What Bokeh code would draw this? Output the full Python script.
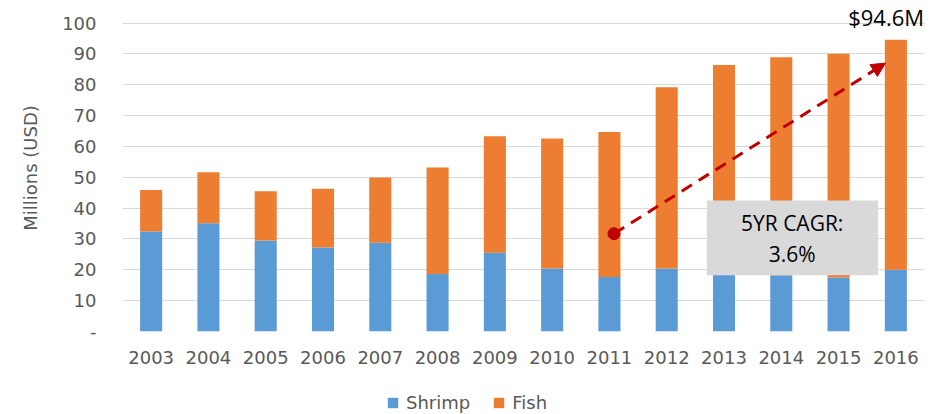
from bokeh.plotting import figure
from bokeh.layouts import column
from bokeh.models import (Range1d, FixedTicker, BoxAnnotation, Label, Arrow,
                          NormalHead, Legend, LegendItem, ColumnDataSource)
from bokeh.embed import file_html
from bokeh.resources import INLINE

# Export value by year, millions of USD
years = ["2003", "2004", "2005", "2006", "2007", "2008", "2009",
         "2010", "2011", "2012", "2013", "2014", "2015", "2016"]
shrimp = [32.4, 35.1, 29.5, 27.2, 28.8, 18.6, 25.5, 20.4, 17.7, 20.4, 18.3, 18.2, 17.5, 20.0]
fish = [13.5, 16.5, 16.0, 19.1, 21.1, 34.6, 37.8, 42.2, 47.0, 58.8, 68.1, 70.7, 72.5, 74.6]
series = ["Shrimp", "Fish"]
y_ticks = [0, 10, 20, 30, 40, 50, 60, 70, 80, 90, 100]
cagr_text = "5YR CAGR:\n3.6%"

BLUE = "#5B9BD5"
ORANGE = "#ED7D31"
RED = "#C00000"
GREY_TEXT = "#595959"
TICK_FONT = "DejaVu Sans"
NOTE_FONT = "Open Sans"

idx = list(range(len(years)))
src = ColumnDataSource(dict(x=idx, shrimp=shrimp, fish=fish))

p = figure(width=947, height=378, output_backend="svg", toolbar_location=None,
           x_range=Range1d(-0.5, len(years) - 0.5), y_range=Range1d(0, 106),
           min_border_left=122, min_border_right=23, min_border_top=4,
           min_border_bottom=47)
p.outline_line_color = None
p.background_fill_color = "white"
p.border_fill_color = "white"

p.vbar_stack(["shrimp", "fish"], x="x", width=0.385, source=src,
             color=[BLUE, ORANGE], line_color=None)

# axes
p.xaxis.ticker = FixedTicker(ticks=idx)
p.xaxis.major_label_overrides = {i: y for i, y in enumerate(years)}
p.yaxis.ticker = FixedTicker(ticks=y_ticks)
p.yaxis.major_label_overrides = {0: "-"}
for ax in (p.xaxis[0], p.yaxis[0]):
    ax.axis_line_color = None
    ax.major_tick_line_color = None
    ax.minor_tick_line_color = None
    ax.major_tick_out = 0
    ax.minor_tick_out = 0
    ax.major_label_text_color = GREY_TEXT
    ax.major_label_text_font = TICK_FONT
    ax.major_label_text_font_size = "18px"
p.xaxis.major_label_standoff = 19
p.yaxis.major_label_standoff = 26
p.yaxis.axis_label = "Millions (USD)"
p.yaxis.axis_label_text_font = TICK_FONT
p.yaxis.axis_label_text_font_size = "18px"
p.yaxis.axis_label_text_font_style = "normal"
p.yaxis.axis_label_text_color = GREY_TEXT
p.yaxis.axis_label_standoff = 18

p.xgrid.grid_line_color = None
p.ygrid.grid_line_color = "#D9D9D9"
p.ygrid.grid_line_width = 1

# growth arrow from 2011 to 2016
last = len(years) - 1
p.add_layout(Arrow(x_start=8.08, y_start=31.7, x_end=12.82, y_end=87.0,
                   line_color=RED, line_width=3, line_dash="12 8",
                   end=NormalHead(size=14, fill_color=RED, line_color=RED)))
p.scatter([8.08], [31.7], size=12, color=RED)

# 2016 total
p.add_layout(Label(x=last - 0.17, y=101.8,
                   text="$%.1fM" % (shrimp[last] + fish[last]),
                   text_align="center", text_baseline="middle",
                   text_font=NOTE_FONT, text_font_size="22px", text_color="black"))

# CAGR callout
p.add_layout(BoxAnnotation(left=9.70, right=12.69, bottom=18.25, top=42.5,
                           fill_color="#D9D9D9", fill_alpha=1, line_color=None))
p.add_layout(Label(x=11.19, y=30.2, text=cagr_text, text_align="center",
                   text_baseline="middle", text_font=NOTE_FONT,
                   text_font_size="21px", text_color="black", text_line_height=1.1))

# legend strip under the chart (its frame lines up with the chart frame)
leg = figure(width=947, height=36, output_backend="svg", toolbar_location=None,
             x_axis_location=None, y_axis_location=None, min_border=0,
             x_range=Range1d(0, 1), y_range=Range1d(0, 1))
leg.outline_line_color = None
leg.grid.visible = False
# zero-height swatch renderers: only their legend entries are visible
swatches = [leg.vbar(x=[0.5], bottom=[0], top=[0], width=0.1, color=c,
                     line_color=None) for c in (BLUE, ORANGE)]
legend = Legend(items=[LegendItem(label=s, renderers=[g])
                       for s, g in zip(series, swatches)],
                orientation="horizontal", location=(264, 1),
                padding=0, margin=0, spacing=22, label_standoff=7,
                glyph_width=13, glyph_height=13,
                label_text_font=TICK_FONT, label_text_font_size="18px",
                label_text_color=GREY_TEXT,
                border_line_color=None, background_fill_alpha=0)
leg.add_layout(legend)

page = column(p, leg, spacing=0)
open("out.html", "w").write(file_html(page, INLINE))
